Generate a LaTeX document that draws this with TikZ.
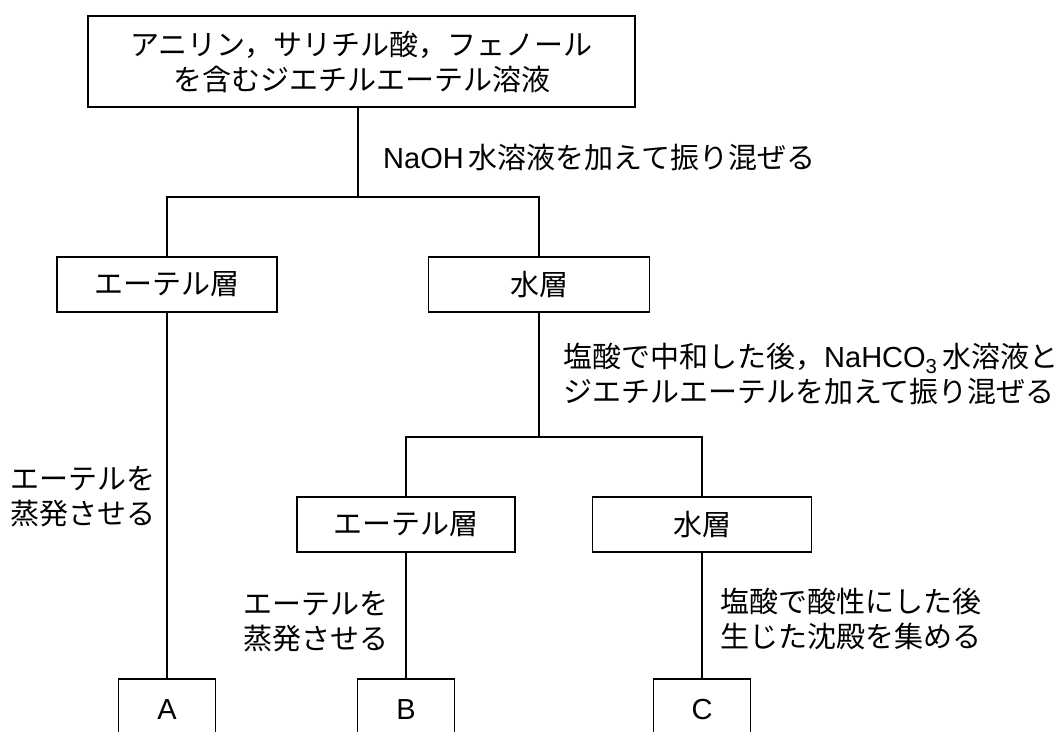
\documentclass[tikz,border=0pt]{standalone}
\usepackage{fontspec}
\setmainfont{Noto Sans CJK JP}
\newfontfamily\lat{Liberation Sans}
\usetikzlibrary{calc}

\tikzset{
  box/.style={draw, line width=1.8pt, inner sep=0pt, minimum height=55, align=center},
  result/.style={box, minimum width=97, minimum height=62},
  note/.style={anchor=west, inner sep=0pt, align=left},
  conn/.style={line width=1.8pt},
}

\begin{document}
\begin{tikzpicture}[x=1pt, y=-1pt, font=\fontsize{29}{35}\selectfont]
    \useasboundingbox (0,0) rectangle (1060,731);
    \clip (0,0) rectangle (1060,731);

    % starting solution
    \node[box, minimum width=547, minimum height=91] (mix) at (361.5,61.5)
        {アニリン，サリチル酸，フェノール\\を含むジエチルエーテル溶液};
    \coordinate (split1) at (358,197);
    \node[note] (naoh) at (383,157) {{\lat NaOH}\,水溶液を加えて振り混ぜる};

    % first separation
    \node[box, minimum width=220] (ether1) at (167,284.5) {エーテル層};
    \node[box, minimum width=221] (water1) at (539,284.5) {水層};
    \draw[conn] (mix.south -| split1) -- (split1);
    \draw[conn] (ether1.north) |- (split1) -| (water1.north);

    % second separation
    \node[note] (bicarb) at (563,374)
        {塩酸で中和した後，{\lat NaHCO\textsubscript{3}}\,水溶液と\\ジエチルエーテルを加えて振り混ぜる};
    \coordinate (split2) at (539,437);
    \node[box, minimum width=218] (ether2) at (406,524.5) {エーテル層};
    \node[box, minimum width=219] (water2) at (702,524.5) {水層};
    \draw[conn] (water1.south) -- (split2);
    \draw[conn] (ether2.north) |- (split2) -| (water2.north);

    % products
    \node[result] (resA) at (167,710) {\lat A};
    \node[result] (resB) at (406,710) {\lat B};
    \node[result] (resC) at (702,710) {\lat C};
    \draw[conn] (ether1.south) -- (resA.north);
    \draw[conn] (ether2.south) -- (resB.north);
    \draw[conn] (water2.south) -- (resC.north);

    \node[note] (evapA) at (10,497) {エーテルを\\蒸発させる};
    \node[note] (evapB) at (243,622) {エーテルを\\蒸発させる};
    \node[note] (acidC) at (720,619) {塩酸で酸性にした後\\生じた沈殿を集める};
\end{tikzpicture}
\end{document}
